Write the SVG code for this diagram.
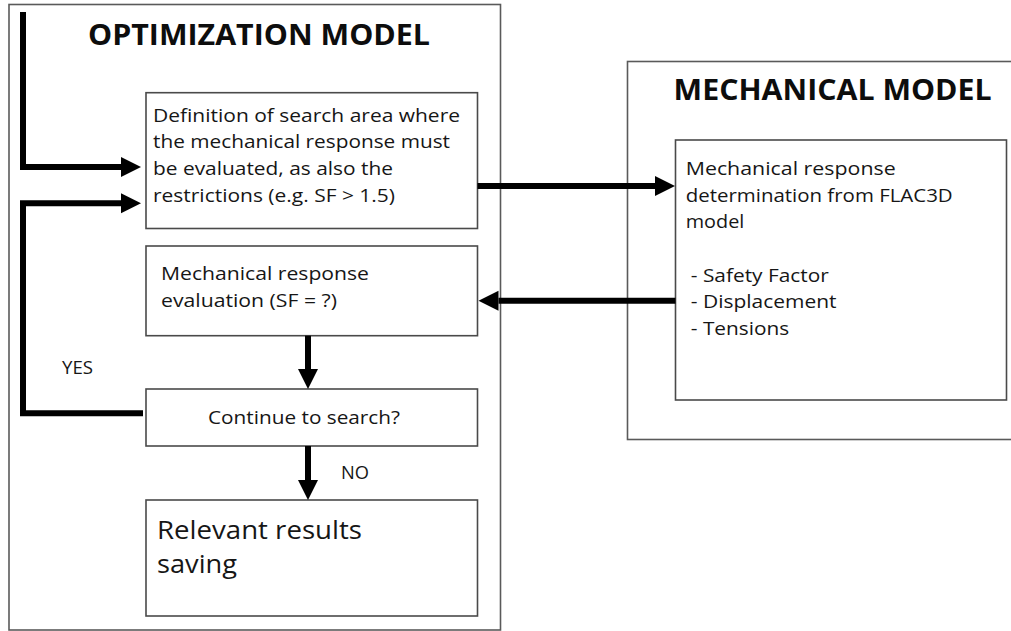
<svg xmlns="http://www.w3.org/2000/svg" width="1011" height="631" viewBox="0 0 1011 631">
<style>
.frame{fill:#fff;stroke:#5a5a5a;stroke-width:1.6}
.box{fill:#fff;stroke:#4a4a4a;stroke-width:1.6}
.t{font-family:"Open Sans","Liberation Sans",sans-serif;font-size:19px;fill:#161616}
.lbl{font-family:"Open Sans","Liberation Sans",sans-serif;font-size:17.5px;fill:#161616}
.big{font-family:"Open Sans","Liberation Sans",sans-serif;font-size:25px;fill:#161616}
.title{font-family:"Open Sans","Liberation Sans",sans-serif;font-size:29px;font-weight:700;fill:#0d0d0d}
.arr{fill:none;stroke:#000;stroke-width:6;stroke-linejoin:miter;stroke-linecap:butt}
</style>
<defs>
<marker id="ah" markerUnits="userSpaceOnUse" markerWidth="20" markerHeight="20" refX="0" refY="10" orient="auto" overflow="visible">
<path d="M0,0 L20,10 L0,20 Z" fill="#000"/>
</marker>
</defs>
<rect width="1011" height="631" fill="#fff"/>
<g id="optimization-model">
<rect class="frame" x="9" y="4.5" width="491.5" height="625.5"/>
<text class="title" x="88" y="45" textLength="342" lengthAdjust="spacingAndGlyphs">OPTIMIZATION MODEL</text>
</g>
<g id="mechanical-model">
<rect class="frame" x="627.5" y="61.5" width="400" height="378"/>
<text class="title" x="673.6" y="100" textLength="318" lengthAdjust="spacingAndGlyphs">MECHANICAL MODEL</text>
</g>
<g id="search-definition">
<rect class="box" x="146" y="92.7" width="331.5" height="135.8"/>
<text class="t" x="153" y="121.7" textLength="307" lengthAdjust="spacingAndGlyphs">Definition of search area where</text>
<text class="t" x="153" y="148.4" textLength="297" lengthAdjust="spacingAndGlyphs">the mechanical response must</text>
<text class="t" x="153" y="175" textLength="240" lengthAdjust="spacingAndGlyphs">be evaluated, as also the</text>
<text class="t" x="153" y="201.7" textLength="242" lengthAdjust="spacingAndGlyphs">restrictions (e.g. SF &gt; 1.5)</text>
</g>
<g id="response-evaluation">
<rect class="box" x="146" y="246" width="331.5" height="89.7"/>
<text class="t" x="161" y="280" textLength="208" lengthAdjust="spacingAndGlyphs">Mechanical response</text>
<text class="t" x="161" y="306.7" textLength="176" lengthAdjust="spacingAndGlyphs">evaluation (SF = ?)</text>
</g>
<g id="continue-search">
<rect class="box" x="146" y="389" width="331.5" height="57"/>
<text class="t" x="208" y="424.3" textLength="192" lengthAdjust="spacingAndGlyphs">Continue to search?</text>
</g>
<g id="results-saving">
<rect class="box" x="146" y="500" width="331.5" height="116"/>
<text class="big" x="157" y="539.3" textLength="205" lengthAdjust="spacingAndGlyphs">Relevant results</text>
<text class="big" x="157" y="573" textLength="80" lengthAdjust="spacingAndGlyphs">saving</text>
</g>
<g id="flac3d-response">
<rect class="box" x="675.5" y="140" width="331" height="260"/>
<text class="t" x="685.7" y="175" textLength="210" lengthAdjust="spacingAndGlyphs">Mechanical response</text>
<text class="t" x="685.7" y="201.7" textLength="267" lengthAdjust="spacingAndGlyphs">determination from FLAC3D</text>
<text class="t" x="685.7" y="227.7" textLength="58.6" lengthAdjust="spacingAndGlyphs">model</text>
<text class="t" x="690.8" y="281.7" textLength="138" lengthAdjust="spacingAndGlyphs">- Safety Factor</text>
<text class="t" x="690.8" y="308.3" textLength="145.7" lengthAdjust="spacingAndGlyphs">- Displacement</text>
<text class="t" x="690.8" y="335" textLength="98.4" lengthAdjust="spacingAndGlyphs">- Tensions</text>
</g>
<g id="connectors">
<path class="arr" d="M23,12 V167 H121" marker-end="url(#ah)"/>
<path class="arr" d="M143,413.3 H23 V203.3 H121" marker-end="url(#ah)"/>
<path class="arr" d="M477.5,186 H655" marker-end="url(#ah)"/>
<path class="arr" d="M675.5,300.7 H498.5" marker-end="url(#ah)"/>
<path class="arr" d="M308,335.7 V369" marker-end="url(#ah)"/>
<path class="arr" d="M308,446 V480" marker-end="url(#ah)"/>
<text class="lbl" x="62" y="374" textLength="31" lengthAdjust="spacingAndGlyphs">YES</text>
<text class="lbl" x="341" y="479.3" textLength="28" lengthAdjust="spacingAndGlyphs">NO</text>
</g>
</svg>
